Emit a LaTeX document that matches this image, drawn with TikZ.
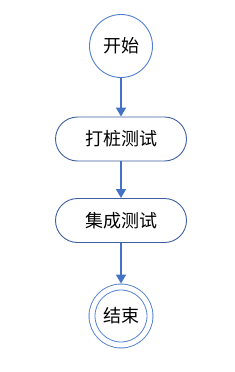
\documentclass[tikz,border=0pt]{standalone}
\usepackage{fontspec}
\setmainfont{Noto Sans CJK SC}
\usetikzlibrary{arrows.meta}
\definecolor{circblue}{HTML}{4F7FD0}
\definecolor{rectblue}{HTML}{3F5F9F}
\definecolor{arrblue}{HTML}{4472C4}
\begin{document}
\begin{tikzpicture}[x=1pt,y=-1pt,
  circnode/.style={circle,draw=circblue,line width=0.9pt,minimum size=63pt,inner sep=0pt,font=\fontsize{18}{20}\selectfont},
  procnode/.style={rounded corners=22pt,draw=rectblue,line width=0.9pt,minimum width=131pt,minimum height=44pt,inner sep=0pt,font=\fontsize{18}{20}\selectfont},
  flow/.style={draw=arrblue,line width=1.5pt,-{Triangle[width=10pt,length=9pt]}}]
\useasboundingbox (0,0) rectangle (234,372);
\node[circnode] (start) at (121,46) {开始};
\node[procnode] (test1) at (121,139) {打桩测试};
\node[procnode] (test2) at (121,220.5) {集成测试};
\node[circnode,double=white,double distance=5pt,minimum size=58pt] (end) at (121,316) {结束};
\draw[flow] (start) -- (test1);
\draw[flow] (test1) -- (test2);
\draw[flow,shorten >=3pt] (test2) -- (end);
\end{tikzpicture}
\end{document}
